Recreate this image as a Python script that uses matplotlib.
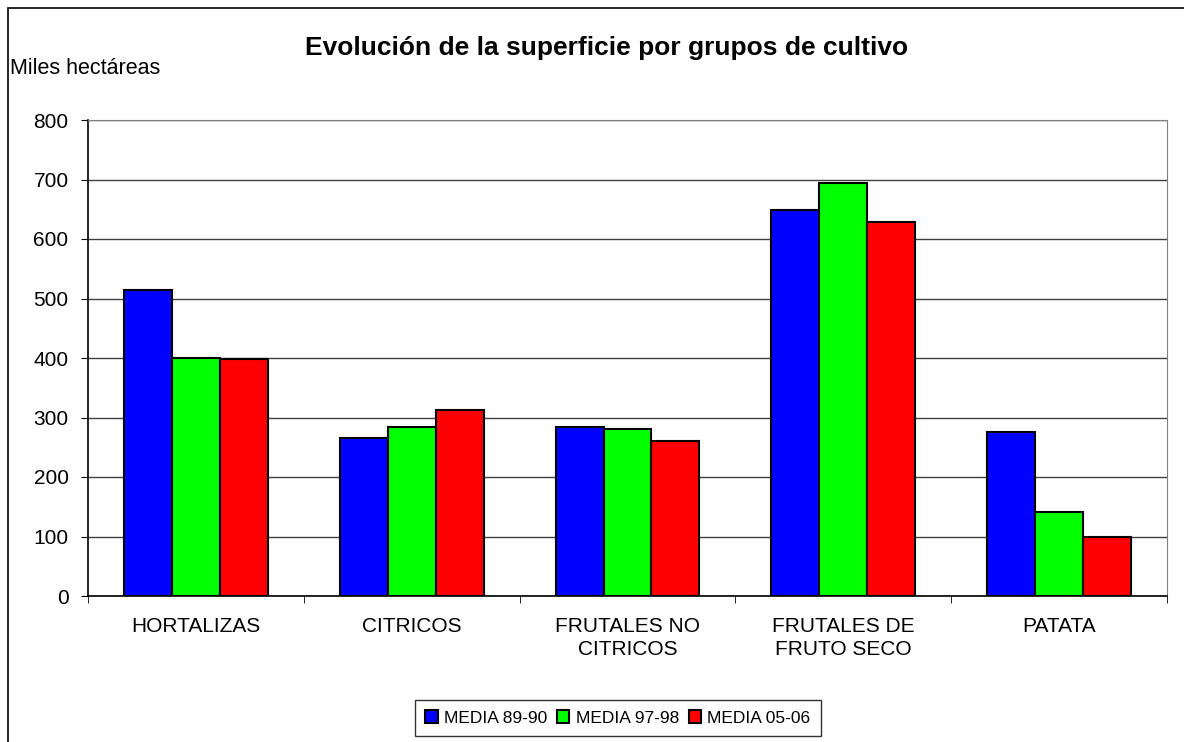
import numpy as np
import matplotlib.pyplot as plt
from matplotlib.patches import Rectangle

# Datos (miles de hectareas)
categorias = ['HORTALIZAS', 'CITRICOS', 'FRUTALES NO\nCITRICOS', 'FRUTALES DE\nFRUTO SECO', 'PATATA']
media_89_90 = [514, 265, 284, 648, 275]
media_97_98 = [400, 284, 281, 694, 142]
media_05_06 = [399, 313, 261, 629, 100]
series = ['MEDIA 89-90', 'MEDIA 97-98', 'MEDIA 05-06']
colores = ['#0000FF', '#00FF00', '#FF0000']

plt.rcParams['font.family'] = ['Liberation Sans', 'DejaVu Sans']

fig = plt.figure(figsize=(11.84, 7.42), dpi=100)
ax = fig.add_axes([88 / 1184, 1 - 596 / 742, 1079 / 1184, 476 / 742])

x = np.arange(len(categorias))
w = 0.222
for i, (vals, nombre, c) in enumerate(zip([media_89_90, media_97_98, media_05_06], series, colores)):
    ax.bar(x + (i - 1) * w, vals, w, color=c, edgecolor='black', linewidth=1.5,
           label=nombre, zorder=3)

ax.set_xlim(-0.5, len(categorias) - 0.5)
ax.set_ylim(0, 800)
ax.set_yticks(range(0, 801, 100))
ax.yaxis.grid(True, color='#404040', linewidth=1, zorder=0)

# marcas del eje de categorias entre grupos
ax.set_xticks(x)
ax.set_xticklabels(categorias, fontsize=15, linespacing=1.3)
ax.tick_params(axis='x', length=0, pad=15)
ax.set_xticks(np.arange(-0.5, len(categorias)), minor=True)
ax.tick_params(axis='x', which='minor', length=5, direction='out', color='black')
ax.tick_params(axis='y', labelsize=15, length=5, direction='out', color='black', pad=9)

for s in ['top', 'right']:
    ax.spines[s].set_color('#808080')
for s in ['left', 'bottom']:
    ax.spines[s].set_color('black')
    ax.spines[s].set_linewidth(1.2)

fig.text(607 / 1184, 1 - 48 / 742, 'Evolución de la superficie por grupos de cultivo',
         ha='center', va='center', fontsize=19, fontweight='bold')
fig.text(10 / 1184, 1 - 68 / 742, 'Miles hectáreas', ha='left', va='center', fontsize=15.5)

leg = ax.legend(loc='center', bbox_to_anchor=(618 / 1184, 1 - 718 / 742),
                bbox_transform=fig.transFigure, ncol=3, fontsize=12.5,
                frameon=True, fancybox=False, handlelength=0.7, handleheight=0.7,
                handletextpad=0.35, columnspacing=0.6, borderpad=0.6)
leg.get_frame().set_edgecolor('black')
leg.get_frame().set_linewidth(1)

# borde del grafico (solo se ven los lados superior e izquierdo)
fig.patches.append(Rectangle((8 / 1184, -0.05), 1.2, 1 - 8 / 742 + 0.05,
                             transform=fig.transFigure, fill=False,
                             edgecolor='black', linewidth=1.2))

fig.savefig('out.png', dpi=100)
